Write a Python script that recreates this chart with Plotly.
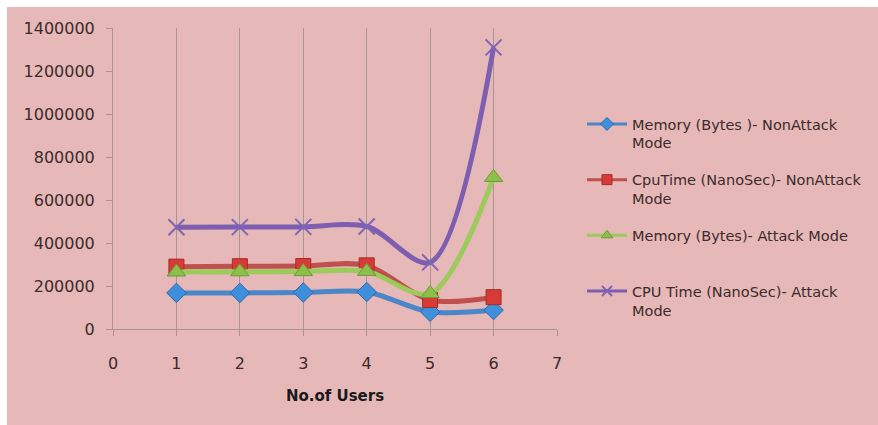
import plotly.graph_objects as go

# Number of users on the x axis
users = [1, 2, 3, 4, 5, 6]

# Measured resource usage per scenario
mem_nonattack = [168000, 168000, 170000, 172000, 80000, 88000]
cpu_nonattack = [290000, 292000, 293000, 296000, 135000, 148000]
mem_attack = [265000, 266000, 267000, 268000, 165000, 705000]
cpu_attack = [473000, 474000, 475000, 477000, 310000, 1310000]

series_names = [
    "Memory (Bytes )- NonAttack<br>Mode",
    "CpuTime (NanoSec)- NonAttack<br>Mode",
    "Memory (Bytes)- Attack Mode<br> ",
    "CPU Time (NanoSec)- Attack<br>Mode",
]
y_ticks = [0, 200000, 400000, 600000, 800000, 1000000, 1200000, 1400000]
x_ticks = [0, 1, 2, 3, 4, 5, 6, 7]

W, H = 878, 425
ML, MR, MT, MB = 113, 321, 28, 96
PW, PH = W - ML - MR, H - MT - MB

BG = "#E6B8B8"
TXT = "#3b2b2b"
AXC = "#A99393"
FONT = "'DejaVu Sans', sans-serif"

styles = [
    dict(line="#4A86C8", marker="#3F8FDB", symbol="diamond", size=15, mline="#2C6AAE"),
    dict(line="#C0504D", marker="#D83A36", symbol="square", size=15, mline="#9E2E2B"),
    dict(line="#9BCB5A", marker="#8CC04B", symbol="triangle-up", size=16, mline="#6E9A3A"),
    dict(line="#7D5EB0", marker="#7F65B6", symbol="x-thin", size=16, mline="#7F65B6"),
]

fig = go.Figure()
for name, vals, st in zip(series_names, [mem_nonattack, cpu_nonattack, mem_attack, cpu_attack], styles):
    mw = 2 if st["symbol"] == "x-thin" else 1
    fig.add_trace(go.Scatter(
        x=users, y=vals, name=name, legendgroup=name, showlegend=False,
        mode="lines+markers",
        line=dict(color=st["line"], width=5, shape="spline", smoothing=0.9),
        marker=dict(symbol=st["symbol"], size=st["size"], color=st["marker"],
                    line=dict(color=st["mline"], width=mw)),
    ))
    # legend key: thinner line with a smaller marker
    fig.add_trace(go.Scatter(
        x=[None], y=[None], name=name, legendgroup=name, showlegend=True,
        mode="lines+markers",
        line=dict(color=st["line"], width=3),
        marker=dict(symbol=st["symbol"], size=10, color=st["marker"],
                    line=dict(color=st["mline"], width=mw)),
    ))

# Thin white band along the top and left edges of the pink chart area
def px_x(p):
    return (p - ML) / PW

def px_y(p):
    return 1 - (p - MT) / PH

fig.add_shape(type="rect", xref="paper", yref="paper",
              x0=px_x(-5), x1=px_x(900), y0=px_y(7), y1=px_y(-5),
              fillcolor="white", line=dict(width=0), layer="below")
fig.add_shape(type="rect", xref="paper", yref="paper",
              x0=px_x(-5), x1=px_x(7), y0=px_y(440), y1=px_y(-5),
              fillcolor="white", line=dict(width=0), layer="below")

fig.update_layout(
    width=W, height=H,
    margin=dict(l=ML, r=MR, t=MT, b=MB, autoexpand=False),
    paper_bgcolor=BG,
    plot_bgcolor="rgba(0,0,0,0)",
    font=dict(family=FONT, size=15, color=TXT),
    showlegend=True,
    legend=dict(
        x=px_x(582), y=px_y(108), xanchor="left", yanchor="top",
        bgcolor="rgba(0,0,0,0)", font=dict(size=14.5, color=TXT),
        valign="top", tracegroupgap=15, traceorder="grouped",
        itemwidth=40,
    ),
    xaxis=dict(
        range=[0, 7], tickvals=x_ticks, ticktext=[str(v) for v in x_ticks],
        showgrid=True, gridcolor=AXC, gridwidth=1,
        showline=True, linecolor=AXC, linewidth=1,
        ticks="outside", ticklen=6, tickcolor=AXC,
        ticklabelstandoff=14,
        zeroline=False,
        title=dict(text="<b>No.of Users</b>", font=dict(size=15, color="#1a1a1a"), standoff=18),
        tickfont=dict(size=16, color=TXT),
    ),
    yaxis=dict(
        range=[0, 1400000], tickvals=y_ticks, ticktext=[str(v) for v in y_ticks],
        showgrid=False, zeroline=False,
        showline=True, linecolor=AXC, linewidth=1,
        ticks="outside", ticklen=6, tickcolor=AXC,
        ticklabelstandoff=8,
        tickfont=dict(size=16, color=TXT),
    ),
)

fig.write_html("out.html")
